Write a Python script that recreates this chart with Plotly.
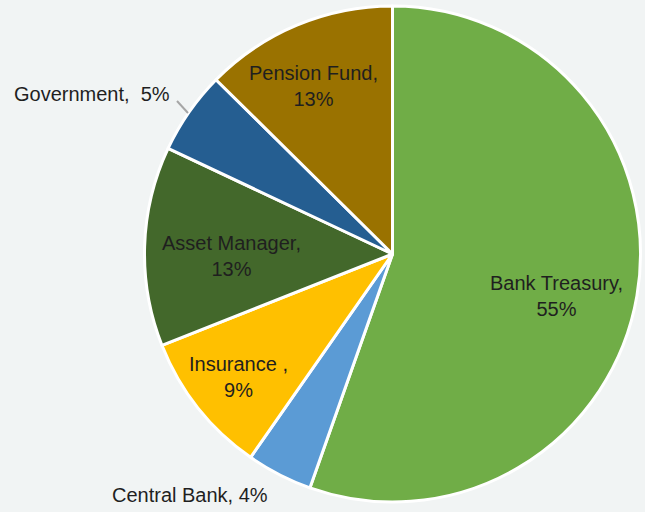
import plotly.graph_objects as go

# Investor breakdown (share of allocation, %)
categories = ["Bank Treasury", "Central Bank", "Insurance ", "Asset Manager", "Government", "Pension Fund"]
shares = [55.4, 4.3, 9.3, 13.0, 5.4, 12.6]
colors = ["#70AD47", "#5B9BD5", "#FFC000", "#43682B", "#255E91", "#9A7200"]

W, H = 645, 512
BG = "#F1F4F4"
TEXT = "#1F1F1F"

# label placement in pixels (centre of text block) and separator style per slice
label_layout = {
    "Bank Treasury": (556, 296, ",<br>"),
    "Central Bank": (190, 495, ", "),
    "Insurance ": (238, 377, ",<br>"),
    "Asset Manager": (231, 256, ",<br>"),
    "Government": (92, 94, ",  "),
    "Pension Fund": (313, 86, ",<br>"),
}

cx, cy, R = 392.5, 254, 248

fig = go.Figure(
    go.Pie(
        labels=categories,
        values=shares,
        sort=False,
        direction="clockwise",
        rotation=0,
        marker=dict(colors=colors, line=dict(color="white", width=3)),
        textinfo="none",
        hoverinfo="label+value",
        domain=dict(x=[(cx - R) / W, (cx + R) / W], y=[1 - (cy + R) / H, 1 - (cy - R) / H]),
    )
)

annotations = []
for cat, val in zip(categories, shares):
    px, py, sep = label_layout[cat]
    annotations.append(
        dict(
            text=f"{cat}{sep}{round(val)}%",
            x=px / W,
            y=1 - py / H,
            xref="paper",
            yref="paper",
            xanchor="center",
            yanchor="middle",
            showarrow=False,
            align="center",
            font=dict(family="Liberation Sans, Arial, sans-serif", size=20, color=TEXT),
        )
    )

# short leader line for the Government label
shapes = [
    dict(
        type="line",
        xref="paper",
        yref="paper",
        x0=177 / W,
        y0=1 - 101 / H,
        x1=188 / W,
        y1=1 - 113 / H,
        line=dict(color="#A6A6A6", width=2),
    )
]

fig.update_layout(
    width=W,
    height=H,
    margin=dict(l=0, r=0, t=0, b=0),
    paper_bgcolor=BG,
    plot_bgcolor=BG,
    showlegend=False,
    annotations=annotations,
    shapes=shapes,
)

fig.write_html("out.html")
